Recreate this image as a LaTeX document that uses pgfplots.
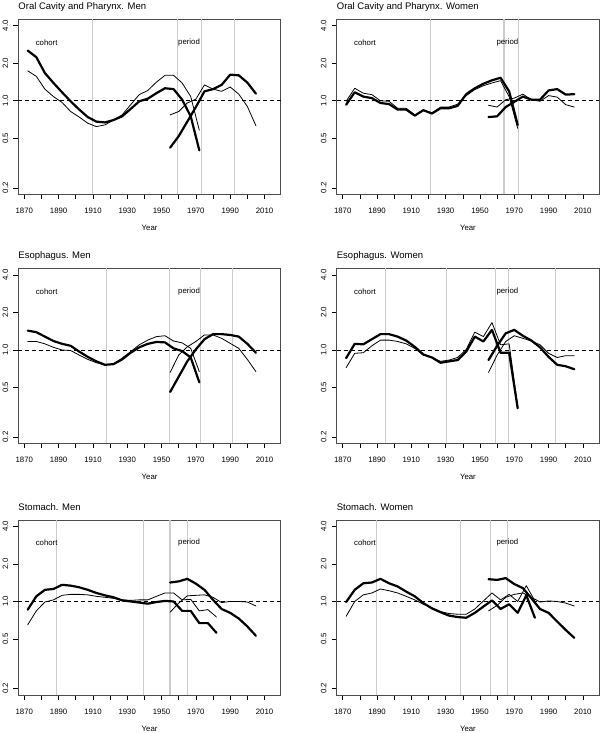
\documentclass[border=0pt]{standalone}
\usepackage{fontspec}
\setmainfont{Liberation Sans}
\usepackage{pgfplots}
\usepackage{pgfplotstable}
\pgfplotsset{compat=1.18}

% tables: year, thick line, thin line
\pgfplotstableread{
yr a b
1872 2.53 1.74
1877 2.24 1.57
1882 1.67 1.24
1887 1.39 1.08
1892 1.17 0.97
1897 0.99 0.82
1902 0.85 0.74
1907 0.74 0.66
1912 0.68 0.62
1917 0.67 0.64
1922 0.70 0.70
1927 0.75 0.77
1932 0.86 0.93
1937 0.99 1.12
1942 1.04 1.21
1947 1.15 1.41
1952 1.26 1.60
1957 1.24 1.60
1962 1.02 1.39
1967 0.75 1.08
1972 0.40 0.58
}\cohA
\pgfplotstableread{
yr a b
1955 0.42 0.77
1960 0.52 0.82
1965 0.68 0.96
1970 0.89 1.03
1975 1.19 1.34
1980 1.24 1.24
1985 1.34 1.19
1990 1.62 1.29
1995 1.60 1.13
2000 1.40 0.90
2005 1.14 0.63
}\perA
\pgfplotstableread{
yr a b
1872 0.93 0.99
1877 1.17 1.26
1882 1.08 1.15
1887 1.05 1.12
1892 0.96 1.00
1897 0.94 0.99
1902 0.85 0.87
1907 0.85 0.87
1912 0.76 0.77
1917 0.84 0.84
1922 0.79 0.80
1927 0.87 0.89
1932 0.87 0.89
1937 0.91 0.94
1942 1.13 1.10
1947 1.26 1.23
1952 1.37 1.32
1957 1.46 1.39
1962 1.53 1.45
1967 1.19 1.08
1972 0.64 0.60
}\cohB
\pgfplotstableread{
yr a b
1955 0.74 0.92
1960 0.75 0.89
1965 0.89 1.02
1970 0.98 1.05
1975 1.08 1.13
1980 1.02 1.02
1985 1.02 0.99
1990 1.21 1.10
1995 1.24 1.07
2000 1.12 0.93
2005 1.13 0.89
}\perB
\pgfplotstableread{
yr a b
1872 1.43 1.17
1877 1.39 1.17
1882 1.28 1.12
1887 1.18 1.05
1892 1.12 1.00
1897 1.08 0.99
1902 0.97 0.91
1907 0.88 0.84
1912 0.81 0.79
1917 0.76 0.76
1922 0.77 0.77
1927 0.84 0.86
1932 0.95 0.97
1937 1.05 1.10
1942 1.12 1.20
1947 1.16 1.28
1952 1.15 1.30
1957 1.03 1.18
1962 0.98 1.14
1967 0.87 1.03
1972 0.55 0.67
}\cohC
\pgfplotstableread{
yr a b
1955 0.46 0.66
1960 0.61 0.91
1965 0.81 1.06
1970 1.01 1.17
1975 1.22 1.32
1980 1.34 1.32
1985 1.34 1.24
1990 1.32 1.13
1995 1.28 1.03
2000 1.12 0.84
2005 0.95 0.67
}\perC
\pgfplotstableread{
yr a b
1872 0.86 0.72
1877 1.12 0.94
1882 1.11 0.95
1887 1.22 1.08
1892 1.34 1.20
1897 1.34 1.20
1902 1.28 1.17
1907 1.19 1.12
1912 1.06 1.03
1917 0.92 0.91
1922 0.87 0.87
1927 0.79 0.81
1932 0.81 0.83
1937 0.83 0.87
1942 0.97 1.01
1947 1.28 1.39
1952 1.17 1.28
1957 1.45 1.66
1962 0.95 1.10
1967 0.95 1.12
1972 0.34 0.35
}\cohD
\pgfplotstableread{
yr a b
1955 0.83 0.66
1960 1.08 0.91
1965 1.36 1.17
1970 1.45 1.30
1975 1.30 1.24
1980 1.19 1.18
1985 1.05 1.10
1990 0.88 0.94
1995 0.76 0.87
2000 0.74 0.90
2005 0.70 0.90
}\perD
\pgfplotstableread{
yr a b
1872 0.86 0.65
1877 1.10 0.84
1882 1.24 0.99
1887 1.26 1.03
1892 1.36 1.12
1897 1.34 1.14
1902 1.30 1.14
1907 1.24 1.13
1912 1.17 1.10
1917 1.12 1.08
1922 1.08 1.06
1927 1.02 1.03
1932 1.00 1.02
1937 0.98 1.03
1942 0.96 1.03
1947 0.99 1.10
1952 1.01 1.17
1957 1.00 1.17
1962 0.84 1.03
1967 0.84 1.04
1972 0.67 0.84
1977 0.67 0.86
1982 0.56 0.75
}\cohE
\pgfplotstableread{
yr a b
1955 1.42 0.82
1960 1.45 0.97
1965 1.52 1.11
1970 1.39 1.12
1975 1.24 1.13
1980 1.03 1.08
1985 0.87 0.98
1990 0.81 1.00
1995 0.73 1.00
2000 0.63 0.99
2005 0.53 0.92
}\perE
\pgfplotstableread{
yr a b
1872 0.99 0.76
1877 1.24 1.00
1882 1.40 1.13
1887 1.42 1.17
1892 1.52 1.26
1897 1.40 1.22
1902 1.32 1.17
1907 1.20 1.10
1912 1.10 1.03
1917 0.97 0.95
1922 0.88 0.89
1927 0.82 0.83
1932 0.77 0.80
1937 0.75 0.79
1942 0.74 0.79
1947 0.81 0.87
1952 0.91 1.01
1957 1.02 1.17
1962 0.87 1.03
1967 0.95 1.14
1972 0.81 1.00
1977 1.12 1.34
1982 0.74 1.01
}\cohF
\pgfplotstableread{
yr a b
1955 1.51 0.84
1960 1.49 0.93
1965 1.54 1.08
1970 1.38 1.14
1975 1.28 1.17
1980 1.06 1.08
1985 0.87 0.99
1990 0.81 1.01
1995 0.69 1.00
2000 0.59 0.97
2005 0.51 0.92
}\perF

% #1 position, #2 title, #3 vertical lines, #4 cohort table, #5 period table
\newcommand{\vln}[1]{\addplot[gray!40,line width=1.1pt,mark=none] coordinates {(#1,0.1774) (#1,4.51)};}
\newcommand{\panel}[5]{%
\begin{axis}[
    at={#1}, anchor=south west, scale only axis, width=262.5pt, height=175pt,
    xmin=1866.5, xmax=2019.5, ymode=log, ymin=0.1774, ymax=4.51,
    xtick={1870,1890,1910,1930,1950,1970,1990,2010},
    xticklabels={1870,1890,1910,1930,1950,1970,1990,2010},
    minor xtick={1880,1900,1920,1940,1960,1980,2000},
    ytick={0.2,0.5,1,2,4}, yticklabels={0.2,0.5,1.0,2.0,4.0},
    yminorticks=false,
    tick align=outside, tick pos=left,
    major tick length=5pt, minor tick length=5pt,
    tick style={black,line width=0.6pt},
    axis line style={draw=black!70,line width=1pt},
    tick label style={font=\fontsize{7.8}{9}\selectfont},
    /pgf/number format/assume math mode=true,
    xticklabel style={anchor=north,inner sep=0pt},
    xticklabel shift=8.5pt,
    yticklabel style={rotate=90,anchor=south,inner sep=0pt},
    yticklabel shift=5pt,
    xlabel={Year},
    xlabel style={at={(0.5,0)},anchor=base,yshift=-36pt,font=\fontsize{7.8}{9}\selectfont},
    title={#2},
    title style={at={(0,1)},anchor=base west,inner sep=0pt,yshift=4pt,font=\fontsize{9.5}{11}\selectfont},
  ]
  #3
  \addplot[black,line width=0.8pt,dash pattern=on 4pt off 3pt,mark=none] coordinates {(1866.5,1) (2019.5,1)};
  \addplot[black,line width=0.8pt,line join=round,line cap=round,mark=none] table[x=yr,y=b] {#4};
  \addplot[black,line width=2.2pt,line join=round,line cap=round,mark=none] table[x=yr,y=a] {#4};
  \addplot[black,line width=0.8pt,line join=round,line cap=round,mark=none] table[x=yr,y=b] {#5};
  \addplot[black,line width=2.2pt,line join=round,line cap=round,mark=none] table[x=yr,y=a] {#5};
  \node[font=\fontsize{7.8}{9}\selectfont] at (axis cs:1883,2.95) {cohort};
  \node[font=\fontsize{7.8}{9}\selectfont] at (axis cs:1966,2.95) {period};
\end{axis}}

\begin{document}
\begin{tikzpicture}
\useasboundingbox (0pt,0pt) rectangle (600pt,733pt);
\panel{(18.3pt,538.7pt)}{Oral Cavity and Pharynx. Men}{\vln{1910}\vln{1959.3}\vln{1973.5}\vln{1992.3}}{\cohA}{\perA}
\panel{(336.7pt,538.7pt)}{Oral Cavity and Pharynx. Women}{\vln{1921.2}\vln{1964}\vln{1972.5}}{\cohB}{\perB}
\panel{(18.3pt,289.5pt)}{Esophagus. Men}{\vln{1918}\vln{1954.5}\vln{1972.5}\vln{1991.2}}{\cohC}{\perC}
\panel{(336.7pt,289.5pt)}{Esophagus. Women}{\vln{1894.7}\vln{1930.3}\vln{1959.1}\vln{1966.5}\vln{1993.9}}{\cohD}{\perD}
\panel{(18.3pt,38pt)}{Stomach. Men}{\vln{1888.8}\vln{1939.7}\vln{1954.9}\vln{1965}}{\cohE}{\perE}
\panel{(336.7pt,38pt)}{Stomach. Women}{\vln{1889.5}\vln{1938.5}\vln{1956.4}\vln{1965.9}}{\cohF}{\perF}
\end{tikzpicture}
\end{document}
